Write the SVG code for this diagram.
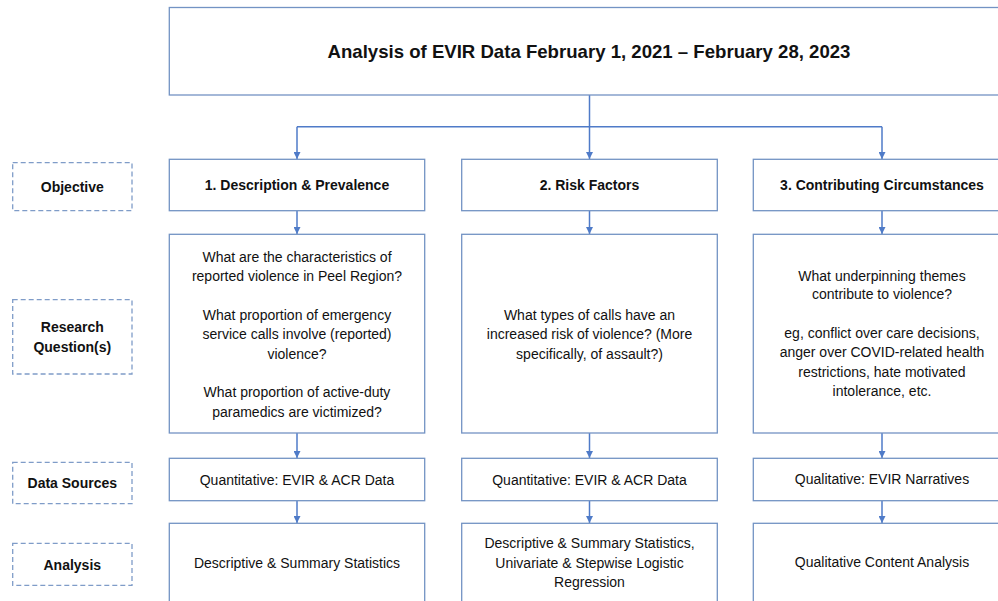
<svg xmlns="http://www.w3.org/2000/svg" width="998" height="601" viewBox="0 0 998 601">
<defs>
<style>
.box{fill:#fff;stroke:#7393c4;stroke-width:1.3}
.dash{fill:#fff;stroke:#7f9cc8;stroke-width:1.3;stroke-dasharray:5,3}
.t{font-family:"Liberation Sans",Arial,sans-serif;font-size:14px;fill:#111;text-anchor:middle}
.b{font-weight:bold}
.title{font-family:"Liberation Sans",Arial,sans-serif;font-size:18.6px;font-weight:bold;fill:#111;text-anchor:middle}
.c{fill:none;stroke:#4f7bc8;stroke-width:1.5}
</style>
<marker id="ah" viewBox="0 0 10 10" refX="10" refY="5" markerWidth="7" markerHeight="7" markerUnits="userSpaceOnUse" orient="auto">
<path d="M0,0 L10,5 L0,10 z" fill="#4f7bc8"/>
</marker>
</defs>
<rect width="998" height="601" fill="#fff"/>

<g id="connectors">
<path class="c" d="M589.5,95 V126.7"/>
<path class="c" d="M297,126.7 H882"/>
<path class="c" d="M297,126.7 V159" marker-end="url(#ah)"/>
<path class="c" d="M589.5,126.7 V159" marker-end="url(#ah)"/>
<path class="c" d="M882,126.7 V159" marker-end="url(#ah)"/>
<path class="c" d="M297,210.7 V234" marker-end="url(#ah)"/>
<path class="c" d="M589.5,210.7 V234" marker-end="url(#ah)"/>
<path class="c" d="M882,210.7 V234" marker-end="url(#ah)"/>
<path class="c" d="M297,433 V458" marker-end="url(#ah)"/>
<path class="c" d="M589.5,433 V458" marker-end="url(#ah)"/>
<path class="c" d="M882,433 V458" marker-end="url(#ah)"/>
<path class="c" d="M297,500.7 V523" marker-end="url(#ah)"/>
<path class="c" d="M589.5,500.7 V523" marker-end="url(#ah)"/>
<path class="c" d="M882,500.7 V523" marker-end="url(#ah)"/>
</g>

<g id="title">
<rect class="box" x="169.3" y="7.5" width="841" height="87.5"/>
<text class="title" x="589" y="58">Analysis of EVIR Data February 1, 2021 – February 28, 2023</text>
</g>

<g id="label-objective">
<rect class="dash" x="12.7" y="162.7" width="119.3" height="48"/>
<text class="t b" x="72.3" y="191.5">Objective</text>
</g>
<g id="label-research">
<rect class="dash" x="12.7" y="299.7" width="119.3" height="74.3"/>
<text class="t b" x="72.3" y="331.5">Research</text>
<text class="t b" x="72.3" y="351.5">Question(s)</text>
</g>
<g id="label-data">
<rect class="dash" x="12.7" y="462.3" width="119.3" height="41.4"/>
<text class="t b" x="72.3" y="488">Data Sources</text>
</g>
<g id="label-analysis">
<rect class="dash" x="12.7" y="543.3" width="119.3" height="42"/>
<text class="t b" x="72.3" y="569.8">Analysis</text>
</g>

<g id="obj1">
<rect class="box" x="169.3" y="159.3" width="255.4" height="51.4"/>
<text class="t b" x="297" y="190">1. Description &amp; Prevalence</text>
</g>
<g id="obj2">
<rect class="box" x="461.7" y="159.3" width="255.6" height="51.4"/>
<text class="t b" x="589.5" y="190">2. Risk Factors</text>
</g>
<g id="obj3">
<rect class="box" x="753.3" y="159.3" width="257" height="51.4"/>
<text class="t b" x="882" y="190">3. Contributing Circumstances</text>
</g>

<g id="rq1">
<rect class="box" x="169.3" y="234.3" width="255.4" height="198.7"/>
<text class="t" x="297" y="261.5">What are the characteristics of</text>
<text class="t" x="297" y="281">reported violence in Peel Region?</text>
<text class="t" x="297" y="320">What proportion of emergency</text>
<text class="t" x="297" y="339.3">service calls involve (reported)</text>
<text class="t" x="297" y="359">violence?</text>
<text class="t" x="297" y="397.3">What proportion of active-duty</text>
<text class="t" x="297" y="416.7">paramedics are victimized?</text>
</g>
<g id="rq2">
<rect class="box" x="461.7" y="234.3" width="255.6" height="198.7"/>
<text class="t" x="589.5" y="320">What types of calls have an</text>
<text class="t" x="589.5" y="339.3">increased risk of violence? (More</text>
<text class="t" x="589.5" y="359">specifically, of assault?)</text>
</g>
<g id="rq3">
<rect class="box" x="753.3" y="234.3" width="257" height="198.7"/>
<text class="t" x="882" y="280.7">What underpinning themes</text>
<text class="t" x="882" y="299.3">contribute to violence?</text>
<text class="t" x="882" y="338.3">eg, conflict over care decisions,</text>
<text class="t" x="882" y="357">anger over COVID-related health</text>
<text class="t" x="882" y="376.7">restrictions, hate motivated</text>
<text class="t" x="882" y="396">intolerance, etc.</text>
</g>

<g id="ds1">
<rect class="box" x="169.3" y="458.3" width="255.4" height="42.4"/>
<text class="t" x="297" y="485">Quantitative: EVIR &amp; ACR Data</text>
</g>
<g id="ds2">
<rect class="box" x="461.7" y="458.3" width="255.6" height="42.4"/>
<text class="t" x="589.5" y="485">Quantitative: EVIR &amp; ACR Data</text>
</g>
<g id="ds3">
<rect class="box" x="753.3" y="458.3" width="257" height="42.4"/>
<text class="t" x="882" y="484">Qualitative: EVIR Narratives</text>
</g>

<g id="an1">
<rect class="box" x="169.3" y="523.3" width="255.4" height="90"/>
<text class="t" x="297" y="567.7">Descriptive &amp; Summary Statistics</text>
</g>
<g id="an2">
<rect class="box" x="461.7" y="523.3" width="255.6" height="90"/>
<text class="t" x="589.5" y="548.3">Descriptive &amp; Summary Statistics,</text>
<text class="t" x="589.5" y="567.7">Univariate &amp; Stepwise Logistic</text>
<text class="t" x="589.5" y="587">Regression</text>
</g>
<g id="an3">
<rect class="box" x="753.3" y="523.3" width="257" height="90"/>
<text class="t" x="882" y="566.7">Qualitative Content Analysis</text>
</g>
</svg>
